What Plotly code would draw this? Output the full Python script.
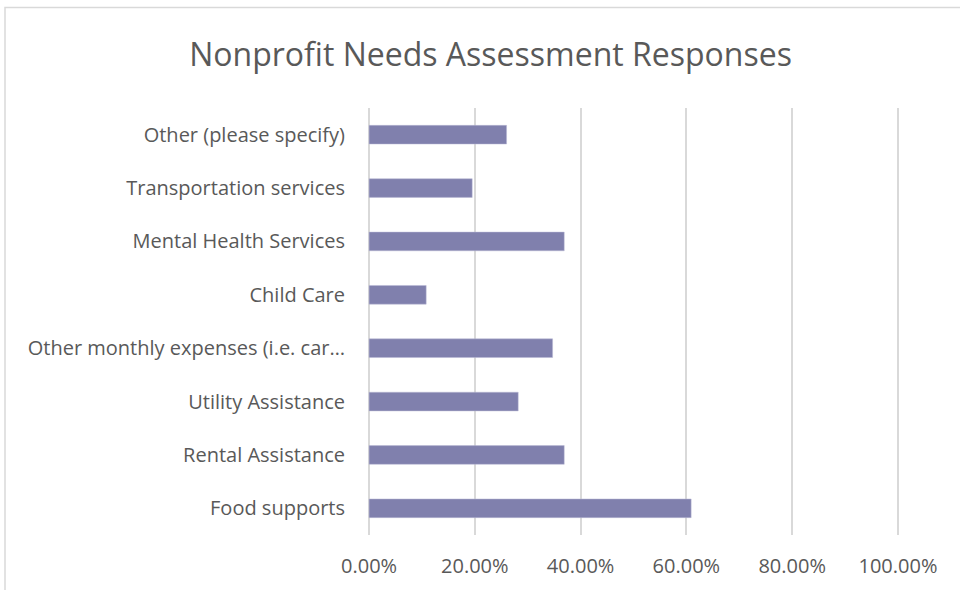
import plotly.graph_objects as go

categories = [
    "Food supports",
    "Rental Assistance",
    "Utility Assistance",
    "Other monthly expenses (i.e. car…",
    "Child Care",
    "Mental Health Services",
    "Transportation services",
    "Other (please specify)",
]
values = [0.609, 0.369, 0.282, 0.347, 0.108, 0.369, 0.195, 0.260]
tick_vals = [0, 0.2, 0.4, 0.6, 0.8, 1.0]
tick_text = ["0.00%", "20.00%", "40.00%", "60.00%", "80.00%", "100.00%"]

fig = go.Figure(
    go.Bar(
        x=values,
        y=categories,
        orientation="h",
        width=0.35,
        marker=dict(color="#8080AD", line=dict(color="#B8B8D4", width=0.5)),
    )
)

fig.update_layout(
    width=960,
    height=590,
    paper_bgcolor="white",
    plot_bgcolor="white",
    margin=dict(l=368, r=61, t=108, b=55),
    showlegend=False,
    title=dict(
        text="Nonprofit Needs Assessment Responses",
        x=0.511,
        xanchor="center",
        xref="container",
        y=0.907,
        yanchor="middle",
        yref="container",
        font=dict(family="Open Sans", size=32, color="#595959"),
    ),
    font=dict(family="Open Sans", color="#595959"),
    shapes=[
        dict(
            type="rect",
            xref="paper",
            yref="paper",
            x0=-0.6836,
            x1=1.3,
            y0=-0.4,
            y1=1.2356,
            line=dict(color="#D9D9D9", width=1.5),
            fillcolor="rgba(0,0,0,0)",
            layer="below",
        )
    ],
)

fig.update_xaxes(
    range=[-0.002, 1.002],
    tickvals=tick_vals,
    ticktext=tick_text,
    showgrid=True,
    gridcolor="#D9D9D9",
    gridwidth=1.5,
    zeroline=True,
    zerolinecolor="#D9D9D9",
    zerolinewidth=1.5,
    showline=False,
    ticks="",
    ticklabelstandoff=17,
    tickfont=dict(family="Open Sans", size=20, color="#595959"),
)
fig.update_yaxes(
    showgrid=False,
    zeroline=False,
    showline=False,
    ticks="",
    ticklabelstandoff=22,
    tickfont=dict(family="Open Sans", size=20, color="#595959"),
)

fig.write_html(
    "out.html",
    config={"displayModeBar": False},
    post_script="document.body.style.margin='0';",
)
